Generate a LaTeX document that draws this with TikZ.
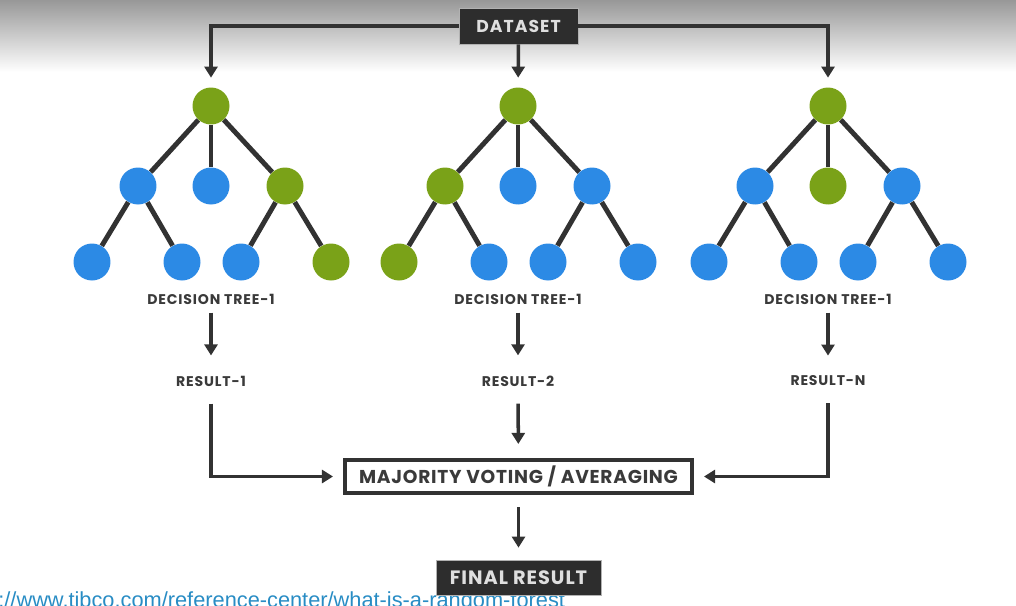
\documentclass[tikz,border=0pt]{standalone}
\usepackage{fontspec}
\setmainfont{Liberation Sans}
\newfontfamily\labelfont{Poppins}
\usepackage{tikz}
\usetikzlibrary{arrows.meta, positioning, calc}
\definecolor{mygreen}{RGB}{122,162,24}
\definecolor{myblue}{RGB}{44,138,229}
\definecolor{mydark}{RGB}{50,50,50}
\definecolor{mybox}{RGB}{45,45,45}
\definecolor{mytext}{RGB}{58,58,58}
\definecolor{mylink}{RGB}{40,140,196}
\definecolor{mygrad}{RGB}{152,152,152}
\tikzset{
  leaf/.style={circle, minimum size=0.74cm, inner sep=0pt},
  edge/.style={line width=2.8pt, color=mydark},
  arrow/.style={-{Triangle[width=7.4pt,length=6.3pt]}, line width=2pt, color=mydark},
  darkbox/.style={rectangle, fill=mybox, draw=gray!60, line width=0.4pt,
    text=gray!25, inner sep=0pt},
  votebox/.style={rectangle, fill=white, draw=mydark, line width=2.3pt,
    minimum width=6.94cm, minimum height=0.66cm, text=mytext,
    font=\labelfont\bfseries\fontsize{10.6}{13}\selectfont\addfontfeatures{LetterSpace=4}, inner sep=0pt},
  caption/.style={font=\labelfont\bfseries\fontsize{8}{10}\selectfont\addfontfeatures{LetterSpace=6},
    text=mytext, inner sep=0pt}
}

\begin{document}
\begin{tikzpicture}[x=0.02cm, y=-0.02cm]
  \useasboundingbox (0,0) rectangle (1016,605);
  % ── grey band at the top ──
  \shade[top color=mygrad, bottom color=white] (0,0) rectangle (1016,72);

  \node[darkbox, minimum width=2.38cm, minimum height=0.72cm,
    font=\labelfont\bfseries\fontsize{9.8}{12}\selectfont\addfontfeatures{LetterSpace=6}] (dataset) at (518.5,26) {DATASET};

  % ── the three trees ──
  \foreach \t/\cx/\ca/\cb/\cc/\la/\lb/\lc/\ld/\res in {
      1/211/myblue/myblue/mygreen/myblue/myblue/myblue/mygreen/1,
      2/518/mygreen/myblue/myblue/mygreen/myblue/myblue/myblue/2,
      3/828/myblue/mygreen/myblue/myblue/myblue/myblue/myblue/N} {
    \node[leaf, fill=mygreen] (root\t) at (\cx,106) {};
    \node[leaf, fill=\ca] (a\t) at (\cx-73,186) {};
    \node[leaf, fill=\cb] (b\t) at (\cx,186) {};
    \node[leaf, fill=\cc] (c\t) at (\cx+74,186) {};
    \node[leaf, fill=\la] (d\t) at (\cx-119,262) {};
    \node[leaf, fill=\lb] (e\t) at (\cx-29,262) {};
    \node[leaf, fill=\lc] (f\t) at (\cx+30,262) {};
    \node[leaf, fill=\ld] (g\t) at (\cx+120,262) {};
    \draw[edge] (root\t) -- (a\t);
    \draw[edge] (root\t) -- (b\t);
    \draw[edge] (root\t) -- (c\t);
    \draw[edge] (a\t) -- (d\t);
    \draw[edge] (a\t) -- (e\t);
    \draw[edge] (c\t) -- (f\t);
    \draw[edge] (c\t) -- (g\t);
    \node[caption] (tree\t) at (\cx,299) {DECISION TREE-1};
    \node[caption] (res\t) at (\cx,381) {RESULT-\res};
    \draw[arrow, shorten <=0.16cm, shorten >=0.4cm] (tree\t) -- (res\t);
  }

  % dataset to the roots
  \draw[arrow, shorten >=0.19cm] (dataset.west) -| (root1);
  \draw[arrow, shorten >=0.19cm] (dataset.east) -| (root3);
  \draw[arrow, shorten >=0.19cm] (dataset) -- (root2);

  % link under the picture, cut by the lower edge
  \node[anchor=base west, inner sep=0pt, text=mylink, font=\fontsize{12.4}{14}\selectfont] (link) at (-2,607.5)
    {://www.tibco.com/reference-center/what-is-a-random-forest};

  \node[votebox] (vote) at (518.5,476.5) {MAJORITY VOTING / AVERAGING};
  \node[darkbox, minimum width=3.3cm, minimum height=0.7cm,
    font=\labelfont\bfseries\fontsize{11}{13}\selectfont\addfontfeatures{LetterSpace=5}] (final) at (518.5,577.5) {FINAL RESULT};

  \draw[arrow, shorten <=0.34cm, shorten >=0.2cm] (res1) |- (vote);
  \draw[arrow, shorten <=0.34cm, shorten >=0.2cm] (res3) |- (vote);
  \draw[arrow, shorten <=0.34cm, shorten >=0.28cm] (res2) -- (vote);
  \draw[arrow, shorten <=0.24cm, shorten >=0.24cm] (vote) -- (final);
\end{tikzpicture}
\end{document}
